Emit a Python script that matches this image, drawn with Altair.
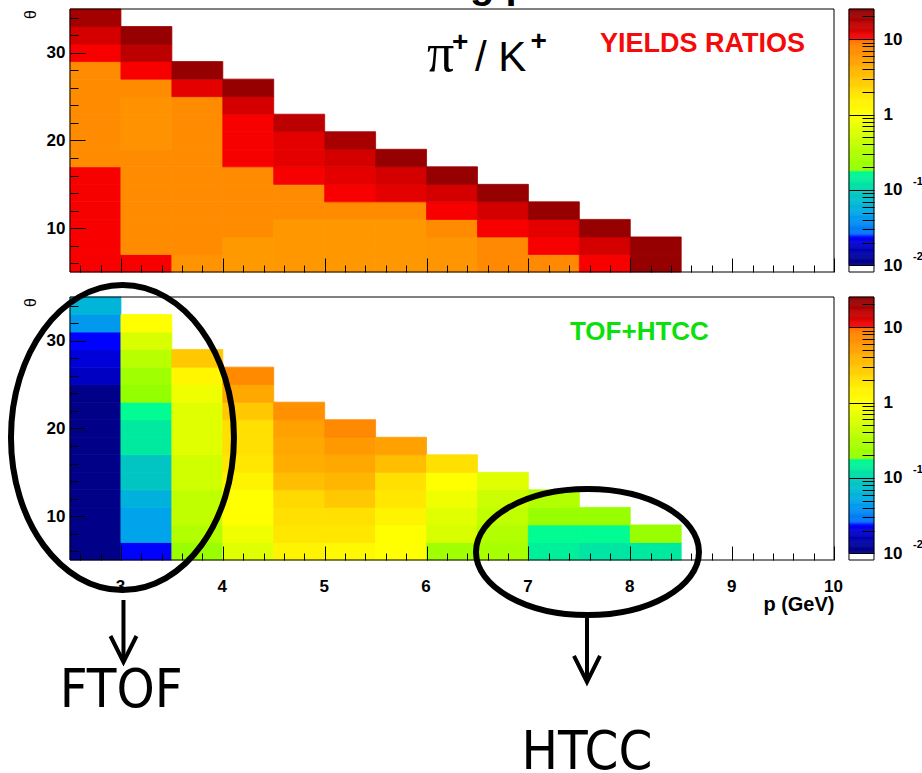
import altair as alt
import pandas as pd
import numpy as np

# ---------------- data ----------------
P_EDGES = [2.5, 3.0, 3.5, 4.0, 4.5, 5.0, 5.5, 6.0, 6.5, 7.0, 7.5, 8.0, 8.5]
THETA_START = 5
THETA_STEP = 2

# pi+/K+ yield ratio, one list per momentum bin, theta bins from 5-7 deg upward
TOP_RATIO = [
    [10.5, 10.5, 10.5, 10.5, 10.5, 10.5, 7.2, 7.2, 7.2, 7.2, 7.2, 7.2, 10.5, 13.5, 19.5],
    [10.5, 7.2, 7.2, 7.2, 7.2, 7.2, 7.2, 6.6, 6.6, 6.6, 7.2, 10.5, 16, 22],
    [6.3, 7.2, 7.2, 7.2, 7.2, 7.2, 7.2, 7.2, 7.2, 7.2, 12, 22],
    [5.9, 5.9, 7.2, 7.2, 7.2, 7.2, 10.5, 10.5, 10.5, 13.5, 22],
    [6.0, 6.0, 6.0, 7.2, 7.2, 10.5, 12, 12, 16],
    [6.0, 6.0, 6.0, 7.2, 10.5, 12, 13.5, 19],
    [6.0, 6.0, 6.0, 7.2, 12, 13.5, 22],
    [6.2, 6.2, 7.2, 10.5, 13.5, 22],
    [7.5, 7.5, 10.5, 13.5, 22],
    [7.5, 10.5, 12, 22],
    [10.5, 13.5, 22],
    [22, 22],
]

# TOF+HTCC
BOT_RATIO = [
    [0.0107] * 10 + [0.018, 0.02, 0.024, 0.042, 0.063],
    [0.024, 0.048, 0.048, 0.06, 0.085, 0.085, 0.13, 0.13, 0.17, 0.19, 0.24, 0.355, 0.56, 1.0],
    [0.21, 0.32, 0.40, 0.40, 0.5, 0.5, 0.63, 0.63, 0.63, 0.8, 1.3, 2.8],
    [0.63, 0.8, 1.0, 1.0, 1.4, 1.8, 2.0, 2.0, 2.8, 4.6, 7.4],
    [1.4, 1.8, 2.0, 2.2, 3.3, 4.2, 4.6, 5.2, 6.8],
    [1.2, 1.8, 2.0, 2.8, 3.7, 4.6, 5.9, 7.6],
    [1.0, 1.0, 1.4, 1.8, 2.0, 3.3, 5.2],
    [0.24, 0.56, 0.63, 0.8, 1.0, 2.0],
    [0.27, 0.32, 0.40, 0.45, 0.63],
    [0.14, 0.17, 0.21, 0.32],
    [0.12, 0.17, 0.21],
    [0.13, 0.21],
]

# palette (log10 of ratio -> colour), ROOT-like rainbow
PAL_LOG = [-2.09, -2.005, -2.0, -1.75, -1.62, -1.58, -1.3, -1.05, -0.9, -0.75, -0.745,
           -0.5, -0.2, 0.0, 0.2, 0.45, 0.72, 0.995, 1.0, 1.19, 1.40]
PAL_COL = ["#ffffff", "#ffffff", "#000080", "#0000c0", "#0000ff", "#0070ff", "#00a8e8",
           "#00c8c0", "#00e8a0", "#00ff90", "#90ff00", "#b0ff00", "#e0ff00", "#ffff00",
           "#fff000", "#ffc800", "#ffa000", "#ff7800", "#ff0000", "#c00000", "#880000"]

X_MAJOR = [3, 4, 5, 6, 7, 8, 9, 10]
X_MINOR = [round(2.6 + 0.2 * i, 1) for i in range(37) if abs((2.6 + 0.2 * i) - round(2.6 + 0.2 * i)) > 1e-6]
Y_MAJOR = [10, 20, 30]
Y_MINOR = [6, 8, 12, 14, 16, 18, 22, 24, 26, 28, 32, 34]
CB_MAJOR = [0.01, 0.1, 1, 10]
CB_MINOR = [m * d for d in (0.01, 0.1, 1) for m in range(2, 10)] + [20]
CB_LABEL_EXPR = "datum.value >= 5 ? '10' : (datum.value >= 0.5 ? '1' : '10')"
CB_EXPO = ["-1", "-2"]
CB_EXPO_AT = [0.1, 0.01]

# layout: two panels stacked in one plot; upper panel theta is shifted by SHIFT
W, PANEL_H, GAP = 764, 263, 25
H = 2 * PANEL_H + GAP
SHIFT = (PANEL_H + GAP) * 30 / PANEL_H
CB_P = [10.147, 10.3925]       # colour bar left/right edge in p units
CB_TEXT_P = 10.7755            # exponent position
CB_PX = 804                    # colour bar right edge, px from plot left

# annotation anchors (p in GeV, theta in deg of the lower panel)
ELLIPSE_P = [3.015, 7.58]
ELLIPSE_T = [18.97, 5.91]
ARROW_P = [3.025, 7.575]
ARROW_FROM = [0.44, -1.62]
ARROW_TO = [-6.41, -8.69]
ARROW_HEAD = [-5.15, -7.43]
NOTE_TEXT = ["FTOF", "HTCC"]
NOTE_P = [3.003, 7.575]
NOTE_T = [-11.77, -18.84]

FONT = "Liberation Sans, Arial, Helvetica, sans-serif"


def cells(cols, shift, name):
    rows = []
    for i, col in enumerate(cols):
        for j, v in enumerate(col):
            t0 = THETA_START + THETA_STEP * j
            rows.append({"p0": P_EDGES[i], "p1": P_EDGES[i + 1], "t0": t0 + shift,
                         "t1": t0 + THETA_STEP + shift, "v": v, "panel": name})
    return rows


df = pd.DataFrame(cells(TOP_RATIO, SHIFT, "top") + cells(BOT_RATIO, 0, "bottom"))

xs = alt.Scale(domain=[2.5, 10], nice=False, zero=False)
ys = alt.Scale(domain=[5, 35 + SHIFT], nice=False, zero=False)
cs = alt.Scale(type="log", domain=[10 ** v for v in PAL_LOG], range=PAL_COL, interpolate="rgb")
DEC = (PAL_LOG[-1] - PAL_LOG[0]) * H / PANEL_H
cb_top = alt.Scale(type="log", domain=[10 ** (PAL_LOG[-1] - DEC), 10 ** PAL_LOG[-1]], nice=False)
cb_bot = alt.Scale(type="log", domain=[10 ** PAL_LOG[0], 10 ** (PAL_LOG[0] + DEC)], nice=False)


def tick_axis(orient, offset, values, size):
    return alt.Axis(orient=orient, offset=offset, values=values, tickSize=size, labels=False,
                    domain=False, grid=False, title=None, ticks=True, tickColor="black",
                    tickWidth=1, zindex=2)


def X(field, axis=None, scale=xs):
    return alt.X(field, scale=scale, axis=axis)


def Y(field, axis=None, scale=ys):
    return alt.Y(field, scale=scale, axis=axis)


def text_layer(text, p, t, size, color="black", font=FONT, weight="normal",
               align="left", baseline="alphabetic"):
    d = pd.DataFrame({"p": [p], "t": [t], "s": [text]})
    return alt.Chart(d).mark_text(fontSize=size, color=color, font=font, fontWeight=weight,
                                  align=align, baseline=baseline).encode(
        x=X("p:Q"), y=Y("t:Q"), text="s:N")


layers = []

# ---- heat maps ----
y_lab_axis = alt.Axis(orient="left", values=Y_MAJOR + [v + SHIFT for v in Y_MAJOR], ticks=False,
                      tickSize=0, domain=False, grid=False, labelPadding=5, labelFontSize=17,
                      labelFontWeight="bold", labelFlush=False, labelOverlap=False,
                      labelExpr=f"round(datum.value > 36 ? datum.value - {SHIFT} : datum.value)",
                      title="θ", titleX=-40, titleY=5, titleAngle=270, titleAlign="center",
                      titleBaseline="middle", titleFontSize=16, titleFontWeight="normal")
x_lab_axis = alt.Axis(orient="bottom", values=X_MAJOR, ticks=False, tickSize=0, domain=False,
                      grid=False, labelPadding=18, labelFontSize=17, labelFontWeight="bold",
                      labelFlush=False, labelOverlap=False, format="d", labelOffset=-1,
                      title="p (GeV)", titleX=W, titleY=50, titleAlign="right",
                      titleBaseline="alphabetic", titleAngle=0, titleFontSize=20,
                      titleFontWeight="bold")
layers.append(alt.Chart(df).mark_rect(strokeWidth=0.8).encode(
    x=X("p0:Q", x_lab_axis), x2="p1:Q", y=Y("t0:Q", y_lab_axis), y2="t1:Q",
    color=alt.Color("v:Q", scale=cs, legend=None),
    stroke=alt.Stroke("v:Q", scale=cs, legend=None)))

# second theta title (lower panel)
pts = alt.Chart(df).mark_point(opacity=0)
layers.append(pts.encode(x=X("p0:Q"), y=Y("t0:Q", alt.Axis(
    orient="left", labels=False, ticks=False, domain=False, grid=False, title="θ",
    titleX=-40, titleY=PANEL_H + GAP + 5, titleAngle=270, titleAlign="center",
    titleBaseline="middle", titleFontSize=16, titleFontWeight="normal"))))

# inward ticks for both panels
for off in (-PANEL_H, -H):
    layers.append(pts.encode(x=X("p0:Q", tick_axis("top", off, X_MAJOR, 14)), y=Y("t0:Q")))
    layers.append(pts.encode(x=X("p0:Q", tick_axis("top", off, X_MINOR, 7)), y=Y("t0:Q")))
layers.append(pts.encode(y=Y("t0:Q", tick_axis("right", -W, Y_MAJOR + [v + SHIFT for v in Y_MAJOR], 15)),
                         x=X("p0:Q")))
layers.append(pts.encode(y=Y("t0:Q", tick_axis("right", -W, Y_MINOR + [v + SHIFT for v in Y_MINOR], 8)),
                         x=X("p0:Q")))

# frames
frames = pd.DataFrame({"p0": [2.5, 2.5], "p1": [10, 10], "t0": [5, 5 + SHIFT], "t1": [35, 35 + SHIFT]})
layers.append(alt.Chart(frames).mark_rect(fillOpacity=0, stroke="black", strokeWidth=1).encode(
    x=X("p0:Q"), x2="p1:Q", y=Y("t0:Q"), y2="t1:Q"))

# ---- colour bars ----
edges = np.logspace(PAL_LOG[0], PAL_LOG[-1], 240)
bands = pd.DataFrame({"lo": edges[:-1], "hi": edges[1:], "mid": np.sqrt(edges[:-1] * edges[1:]),
                      "c0": CB_P[0], "c1": CB_P[1]})
cb_frame = pd.DataFrame({"lo": [edges[0]], "hi": [edges[-1]], "c0": [CB_P[0]], "c1": [CB_P[1]]})
expo = pd.DataFrame({"v": CB_EXPO_AT, "s": CB_EXPO, "c": CB_TEXT_P})
for sc in (cb_top, cb_bot):
    lab_axis = alt.Axis(orient="right", offset=CB_PX - W, values=CB_MAJOR, ticks=False, tickSize=0,
                        domain=False, grid=False, labelPadding=9, labelFontSize=17,
                        labelFontWeight="bold", labelFlush=False, labelOverlap=False,
                        labelExpr=CB_LABEL_EXPR, title=None)
    layers.append(alt.Chart(bands).mark_rect(strokeWidth=0.6).encode(
        x=X("c0:Q"), x2="c1:Q", y=Y("lo:Q", lab_axis, sc), y2="hi:Q",
        color=alt.Color("mid:Q", scale=cs, legend=None),
        stroke=alt.Stroke("mid:Q", scale=cs, legend=None)))
    layers.append(alt.Chart(cb_frame).mark_rect(fillOpacity=0, stroke="black", strokeWidth=1).encode(
        x=X("c0:Q"), x2="c1:Q", y=Y("lo:Q", None, sc), y2="hi:Q"))
    cpts = alt.Chart(cb_frame).mark_point(opacity=0)
    layers.append(cpts.encode(x=X("c0:Q"), y=Y("lo:Q", tick_axis("left", -CB_PX, CB_MAJOR, 25), sc)))
    layers.append(cpts.encode(x=X("c0:Q"), y=Y("lo:Q", tick_axis("left", -CB_PX, CB_MINOR, 12), sc)))
    layers.append(alt.Chart(expo).mark_text(
        align="left", baseline="middle", dy=-8, fontSize=11, fontWeight="bold", font=FONT, color="black"
    ).encode(x=X("c:Q"), y=Y("v:Q", None, sc), text="s:N"))

# ---- texts ----
layers += [
    text_layer("g p", 6.427, 36.25 + SHIFT, 40, weight="bold"),
    text_layer("π", 6.005, 27.93 + SHIFT, 54, font="Liberation Serif, Times New Roman, serif"),
    text_layer("+", 6.33, 31.12 + SHIFT, 28, weight="bold", align="center", baseline="middle"),
    text_layer("/ K", 6.476, 27.93 + SHIFT, 42),
    text_layer("+", 7.10, 31.24 + SHIFT, 28, weight="bold", align="center", baseline="middle"),
    text_layer("YIELDS RATIOS", 7.703, 30.10 + SHIFT, 27, color="#f50a0a", weight="bold"),
    text_layer("TOF+HTCC", 7.408, 30.1, 26, color="#0be00b", weight="bold"),
]


# ---- hand-drawn style annotations ----
def ellipse_path(a, b):
    k = 0.5523
    return (f"M{a},0 C{a},{k*b:.4f} {k*a:.4f},{b} 0,{b} C{-k*a:.4f},{b} {-a},{k*b:.4f} {-a},0 "
            f"C{-a},{-k*b:.4f} {-k*a:.4f},{-b} 0,{-b} C{k*a:.4f},{-b} {a},{-k*b:.4f} {a},0 Z")


layers.append(alt.Chart(pd.DataFrame({"p": [ELLIPSE_P[0]], "t": [ELLIPSE_T[0]]})).mark_point(
    shape=ellipse_path(0.731, 1), size=305 ** 2, filled=False, stroke="black", strokeWidth=6, opacity=1
).encode(x=X("p:Q"), y=Y("t:Q")))
layers.append(alt.Chart(pd.DataFrame({"p": [ELLIPSE_P[1]], "t": [ELLIPSE_T[1]]})).mark_point(
    shape=ellipse_path(1, 0.565), size=223 ** 2, filled=False, stroke="black", strokeWidth=6, opacity=1
).encode(x=X("p:Q"), y=Y("t:Q")))
arrows_df = pd.DataFrame({"p": ARROW_P, "t0": ARROW_FROM, "t1": ARROW_TO, "th": ARROW_HEAD})
layers.append(alt.Chart(arrows_df).mark_rule(strokeWidth=4, color="black").encode(
    x=X("p:Q"), y=Y("t0:Q"), y2="t1:Q"))
layers.append(alt.Chart(arrows_df).mark_point(
    shape="M-1,-1L0,1L1,-1", size=26 ** 2, filled=False, stroke="black", strokeWidth=4, opacity=1
).encode(x=X("p:Q"), y=Y("th:Q")))
layers.append(alt.Chart(pd.DataFrame({"p": NOTE_P, "t": NOTE_T, "s": NOTE_TEXT})).mark_text(
    fontSize=54, font="Liberation Sans Narrow, DejaVu Sans Condensed, Liberation Sans, sans-serif",
    align="center", baseline="alphabetic", color="black"
).encode(x=X("p:Q"), y=Y("t:Q"), text="s:N"))

chart = alt.layer(*layers).resolve_scale(y="independent").resolve_axis(
    x="independent", y="independent"
).properties(
    width=W, height=H,
    autosize=alt.AutoSizeParams(type="none"),
    padding={"left": 70, "top": 9, "right": 88, "bottom": 213},
).configure_view(strokeWidth=0).configure_axis(
    labelFont=FONT, titleFont=FONT, labelColor="black", titleColor="black"
)

chart.save("out.html", embed_options={"renderer": "svg", "actions": False})
